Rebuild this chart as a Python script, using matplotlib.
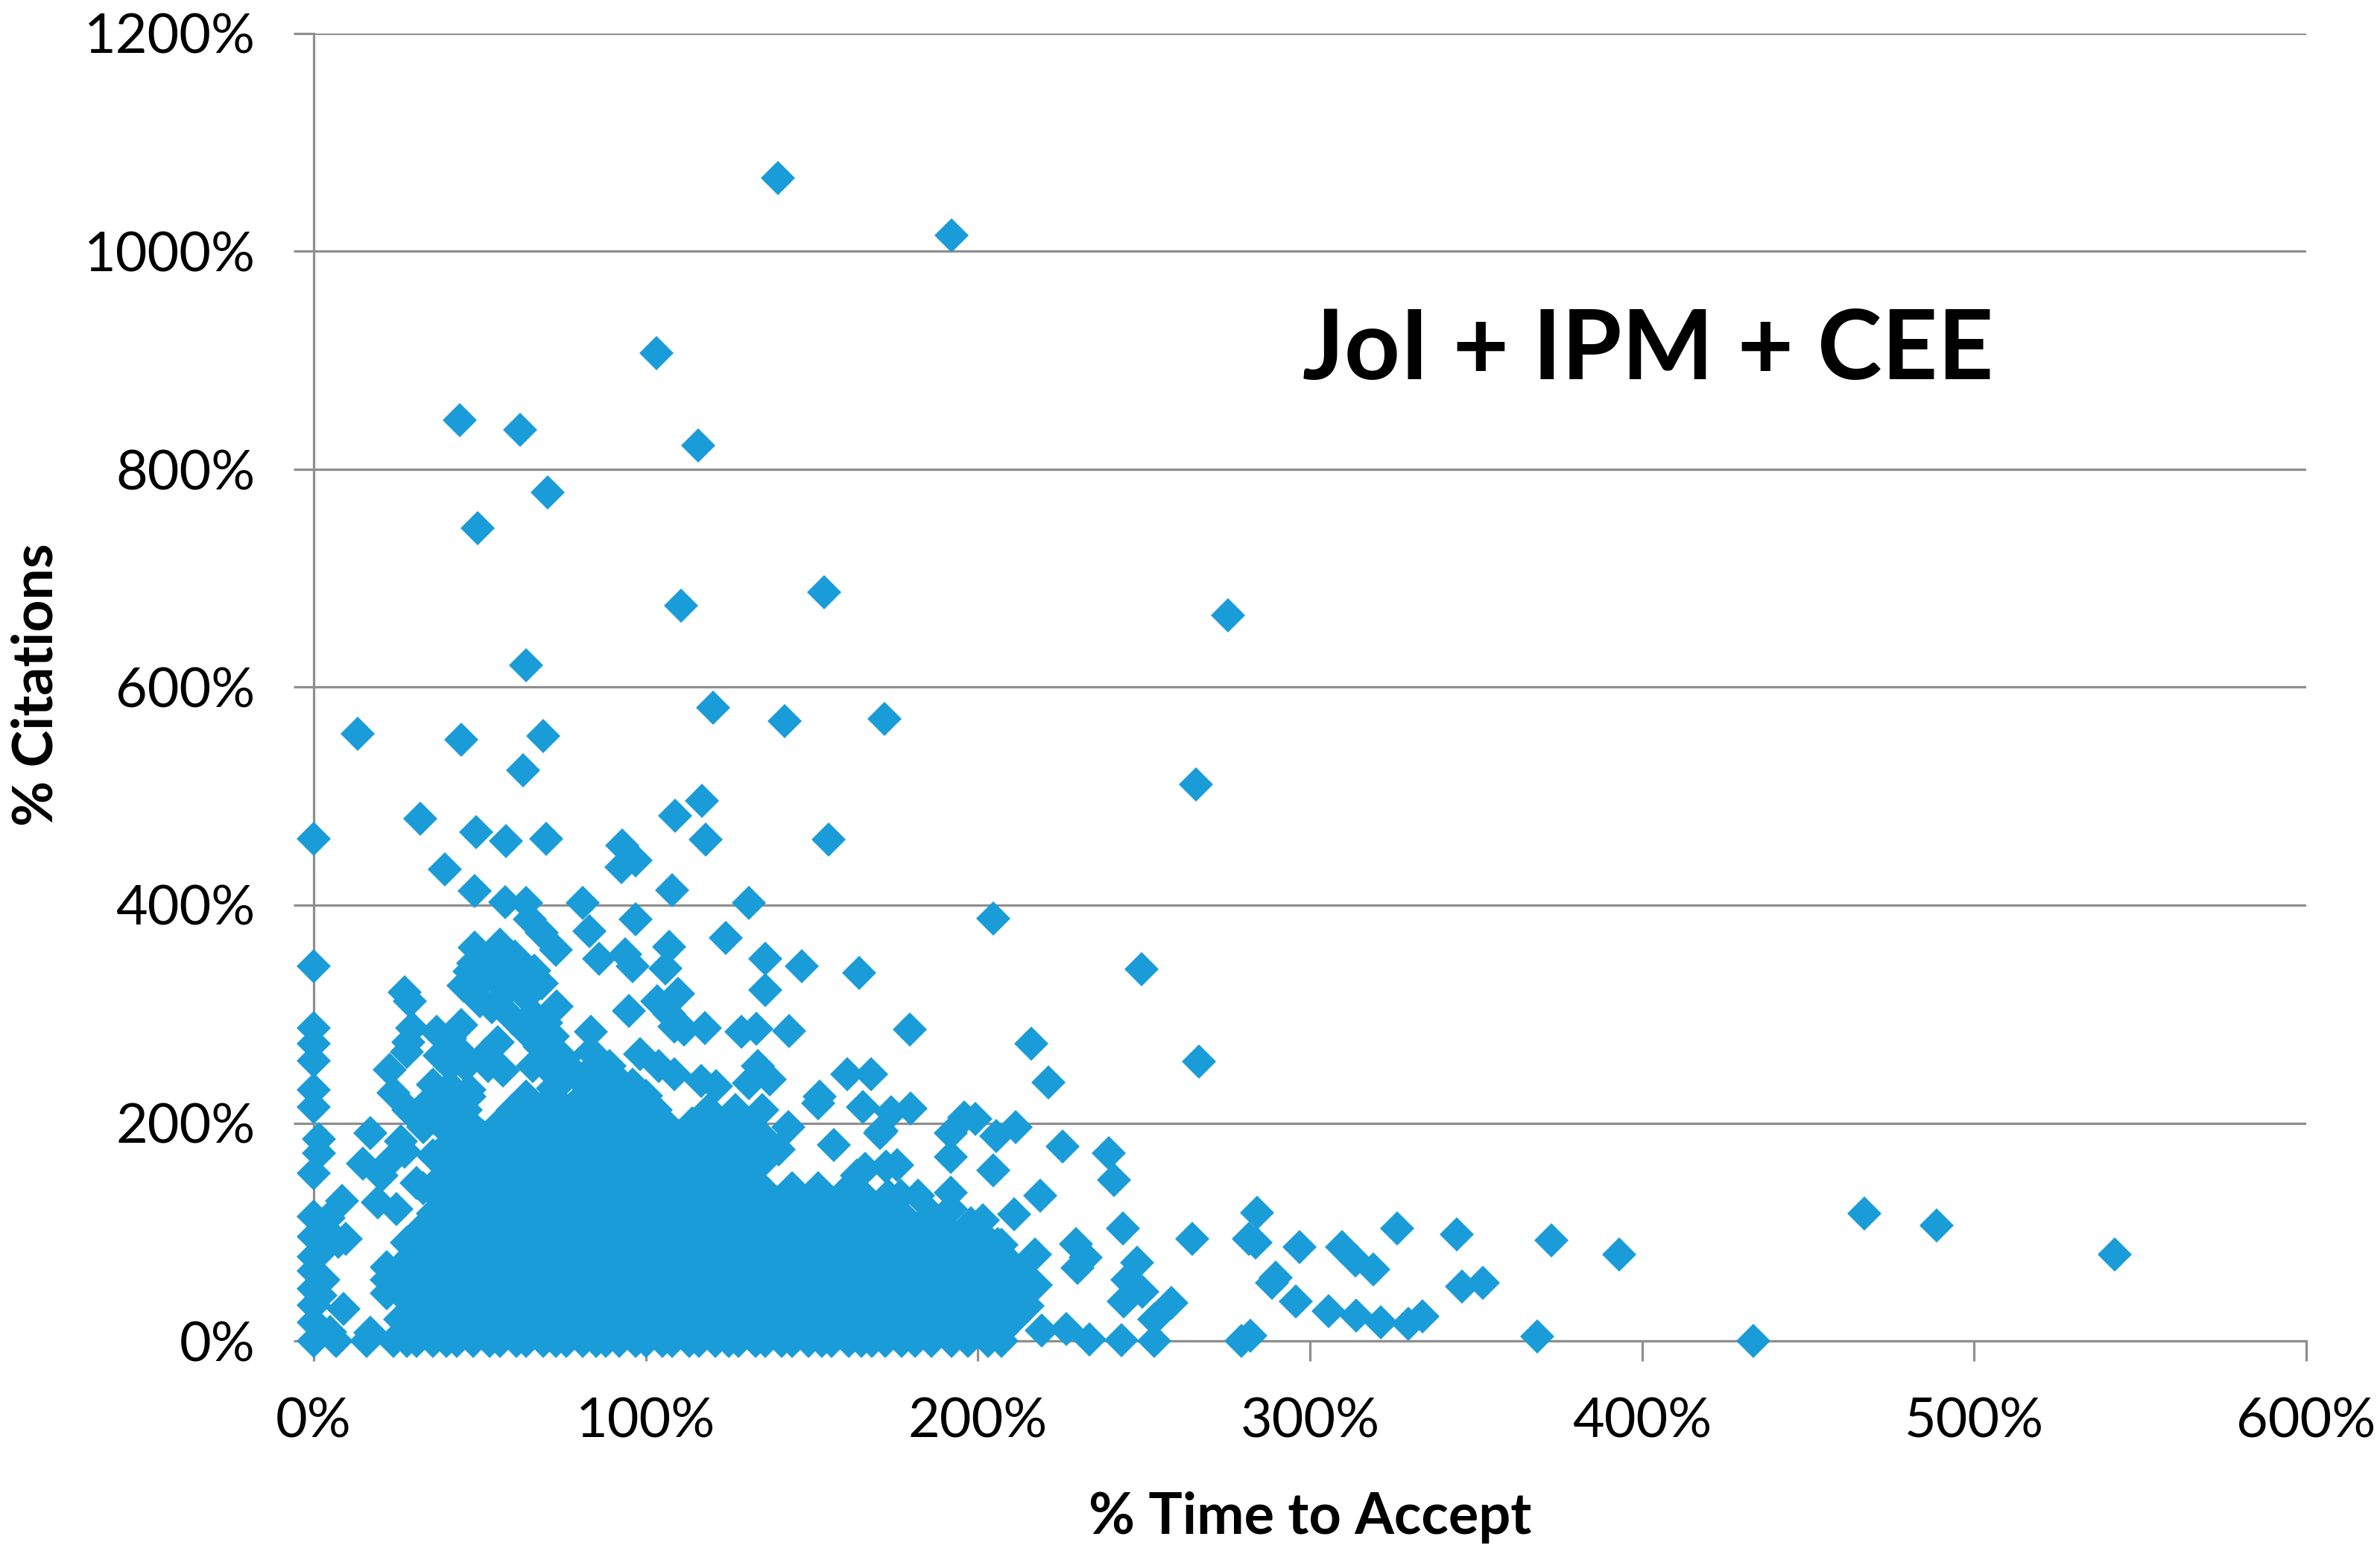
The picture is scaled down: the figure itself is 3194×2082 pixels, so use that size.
import matplotlib
matplotlib.use("Agg")
import matplotlib.pyplot as plt

title_text = "JoI + IPM + CEE"
x_label = "% Time to Accept"
y_label = "% Citations"
x_ticks = [0, 100, 200, 300, 400, 500, 600]
y_ticks = [0, 200, 400, 600, 800, 1000, 1200]

# sparse points above the main mass (x %, y %)
upper_points = [
    (139.9,1067.6),(192,1015),(103.3,907),(43.9,845),(62.2,836),(115.7,822),(70.4,779),(49.4,746),
    (153.6,687),(110.7,675),(275.3,666),(64,620),(120.3,581),(141.7,569),(171.9,571),(13.3,557),
    (44.4,552),(69,555),(63.1,524),(265.7,511),(117,496),(108.8,482),(32,479),(0,461),(49,467),
    (58,459),(70,461),(118,460),(155,460),(93,455),(97,441),(92.6,435),(39.6,433),(48.5,413),
    (57.7,403),(64,402),(81,402),(97,387),(108,414),(131,402),(204.6,387.5),(65,387),(68.6,375),
    (73,359),(83,376),(107,362),(86,351),(93.7,354.6),(96,344),(106,342),(124,370),(136,351),
    (147,344),(164.3,338),(136,322),(0,344),(249.4,341),
]
# the knot around 50 %, 330 % and the loose points on its right
knot_points = [
    (48.5,361),(56,364),(60.5,353),(48,347),(46.8,339),(52.5,340),(59.5,337),(66.4,340),(50,312),
    (49,316),(56,328),(53.7,306),(68.6,328),(73.2,307),(64,316),(58,320),(45,326),(51,330),(62,345),
    (66,300),(70,292),(60,296),(72,280),(68,270),(64,284),(69,284),(72,268),(48,322),(54,350),(63,328),
    (95,303),(108.6,288.6),
    (111.5,285.5),(103.5,312),(109.8,318.5),(107,300),(117.8,287),(128.7,284),(133.3,286.5),
    (143.2,284.6),(98.3,263),(104,252.5),(108.6,244.7),(116.6,238.4),(121.2,233.7),(133.8,252.5),
    (131,236.8),(137.3,240),(160.7,244.7),(167.8,244.7),(165.3,215),(171,193),(179.5,285.5),
    (216,273),(266.5,256.6),(221.2,237.5),(152.3,224),(174,210),(179.8,213),(170.6,191),(195.8,205.4),
    (199.2,204),(191.8,191),(205.5,188),(211.3,196),(191.8,169),(204.7,156.8),(225.6,178.8),
    (239.5,172.5),(241,147.4),(156.7,180),(143,196),(152,218),(163.6,152),(83.4,284),(83.4,265),
    (69.7,252.5),(75.4,259),(75.4,240),(77.7,249),(89,252.5),(87,230.6),(91.5,240),(93.7,227),
    (91.5,196),(103,212),(66,252),(72,232),(80,240),(84,250),(96,235),(100,225),(88,215),(95,212),
]
# points near the y axis and the left edge
left_points = [
    (0,287),(0,273),(0,257),(0,230.6),(0,215),(1.6,185),(1.6,172.5),(0,153.6),(0,114.4),(8.5,128.5),
    (4.5,113),(9.6,94),(7.3,91),(0,95.6),(0,77),(0,64),(0,48),(0,33),(0,17),(0,0),(6.8,0),(9,29.6),
    (16,0),(17,7.6),(3,84),(3,56),(2,42),(5,8),
    (27.4,320),(29,312),(29.6,287),(28.5,274.5),(28,265),(22.8,249),(23.9,227.4),(28.5,212),(37,284),
    (44.5,290),(41,277.6),(55.4,274.5),(17,191),(26.2,183.5),(14.8,163),(22.8,164.6),(19.3,127),
    (25,120.7),(20.5,152),(27.4,174),(33,196),(31,145),(28,90),(32.5,103),(36,117),(22,68),(22,44),
    (33,215),(36,235),(38,200),(36,170),(33,140),
    (41,252.5),(45.7,252.5),(52.5,252.5),(57,248),(41,234),(46.8,230.6),(40,215),(45.7,212),
    (38,262),(44,266),(52,264),
]
# tail to the right of the main mass
tail_points = [
    (284,117.5),(281.6,94),(283.6,90),(296.8,86),(309.7,86),(313.7,73.6),(319,65.7),(326.3,103.4),
    (229.6,89),(232.4,76.7),(230.1,67),(217.3,79),(207,88),(247.9,72),(245,56),(249.6,45),(243.9,36),
    (258.2,35),(253,20),(253,0),(289.7,58),(288.5,53),(295.7,36.5),(305.7,27.4),(314,23),(321.4,17),
    (329.7,15.5),(282,4.5),(279.4,0),(243.3,1),(233.6,1.4),(226.7,11),(219.3,9.4),(209.5,61),(217.5,51.6),
    (213,26.5),(243.6,103.4),(264.5,94),(218.7,133),(211,116),(191.8,136.4),(191.8,120.7),
    (344.3,97.6),(345.7,50),(352,53),(333.8,22.3),(372.7,92),(393.2,79.4),(368.5,4.2),(433.5,0),
    (466.9,117),(488.8,106),(542.3,79.4),(166,158),(172.3,160),(175.8,161.5),(165.5,133),(172.9,133),
    (176.9,133),(182,133),(198,108),(201.5,111),(206,89),(185.5,97),(210.7,64),
]
# main solid mass, one estimated band of citations at a time: (y %, [x %, ...])
dense_rows = [
    (8, [30,39,47,56,64,72,81,89,98,106,114,123,131,140,148,156,165,173,182,190,198,207]),
    (20, [26,34,43,51,60,68,77,85,93,102,110,119,127,135,144,152,161,169,177,186,194,203,211]),
    (32, [30,39,47,56,64,72,81,89,98,106,114,123,131,140,148,156,165,173,182,190,198,207,215]),
    (44, [26,34,43,51,60,68,77,85,93,102,110,119,127,135,144,152,161,169,177,186,194,203,211]),
    (56, [22,30,39,47,56,64,72,81,89,98,106,114,123,131,140,148,156,165,173,182,190,198,207,215]),
    (68, [26,34,43,51,60,68,77,85,93,102,110,119,127,135,144,152,161,169,177,186,194,203,211]),
    (80, [30,39,47,56,64,72,81,89,98,106,114,123,131,140,148,156,165,173,182,190,198,207]),
    (92, [34,43,51,60,68,77,85,93,102,110,119,127,135,144,152,161,169,177,186,194,203]),
    (104, [39,47,56,64,72,81,89,98,106,114,123,131,140,148,156,165,173,182,190,198]),
    (116, [43,51,60,68,77,85,93,102,110,119,127,135,144,152,161,169,177,186]),
    (128, [39,47,56,64,72,81,89,98,106,114,123,131,140,148,156,165,173]),
    (140, [43,51,60,68,77,85,93,102,110,119,127,135,144,152,161]),
    (152, [39,47,56,64,72,81,89,98,106,114,123,131]),
    (164, [43,51,60,68,77,85,93,102,110,119,127,135]),
    (176, [39,47,56,64,72,81,89,98,106,114,123,131,140]),
    (188, [43,51,60,68,77,85,93,102,110,119,127,135]),
    (200, [39,47,56,64,72,81,89,98,106,114,123,131]),
    (212, [43,60,68,77,85,119,127,135]),
    (224, [39,47,64,72,81]),
]
# points sitting on the zero line
zero_x = [
    24,28,31,36,40,43,48,53,56,61,64,69,73,76,81,85,88,92,97,100,105,108,113,116,121,125,128,133,136,
    141,144,149,153,156,161,165,168,172,177,181,186,192,197,203,207,
]

color = "#1A9CD8"
grey = "#8F8F8F"
plt.rcParams["font.family"] = ["Lato", "DejaVu Sans"]

fig = plt.figure(figsize=(31.94, 20.82), dpi=100, facecolor="white")
ax = fig.add_axes([421 / 3194, 1 - 1800 / 2082, (3095 - 421) / 3194, (1800 - 45) / 2082])
ax.set_xlim(0, 600)
ax.set_ylim(0, 1200)

ax.set_xticks(x_ticks)
ax.set_yticks(y_ticks)
ax.set_xticklabels([f"{v}%" for v in x_ticks])
ax.set_yticklabels([f"{v}%" for v in y_ticks])
ax.tick_params(axis="x", length=19.5, width=2.3, color=grey, pad=35, labelsize=53)
ax.tick_params(axis="y", length=19.5, width=2.3, color=grey, pad=37, labelsize=53)
ax.grid(axis="y", color=grey, linewidth=2.3, zorder=1)
ax.set_axisbelow(True)
for side in ("top", "right"):
    ax.spines[side].set_visible(False)
for side in ("left", "bottom"):
    ax.spines[side].set_color(grey)
    ax.spines[side].set_linewidth(2.3)

all_points = upper_points + knot_points + left_points + tail_points
xs = [p[0] for p in all_points] + zero_x
ys = [p[1] for p in all_points] + [0] * len(zero_x)
for level, row in dense_rows:
    xs += row
    ys += [level] * len(row)
ax.plot(xs, ys, linestyle="none", marker="D", markersize=23, markerfacecolor=color,
        markeredgewidth=0, clip_on=False, zorder=3)

fig.text(1758 / 3194, 1 - 2037 / 2082, x_label, ha="center", va="center", fontsize=54.5, fontweight="bold")
fig.text(49 / 3194, 1 - 919 / 2082, y_label, ha="center", va="center", rotation=90, fontsize=54, fontweight="bold")
fig.text(2212 / 3194, 1 - 472 / 2082, title_text, ha="center", va="center", fontsize=94, fontweight="bold")

fig.savefig("out.png", dpi=100)
